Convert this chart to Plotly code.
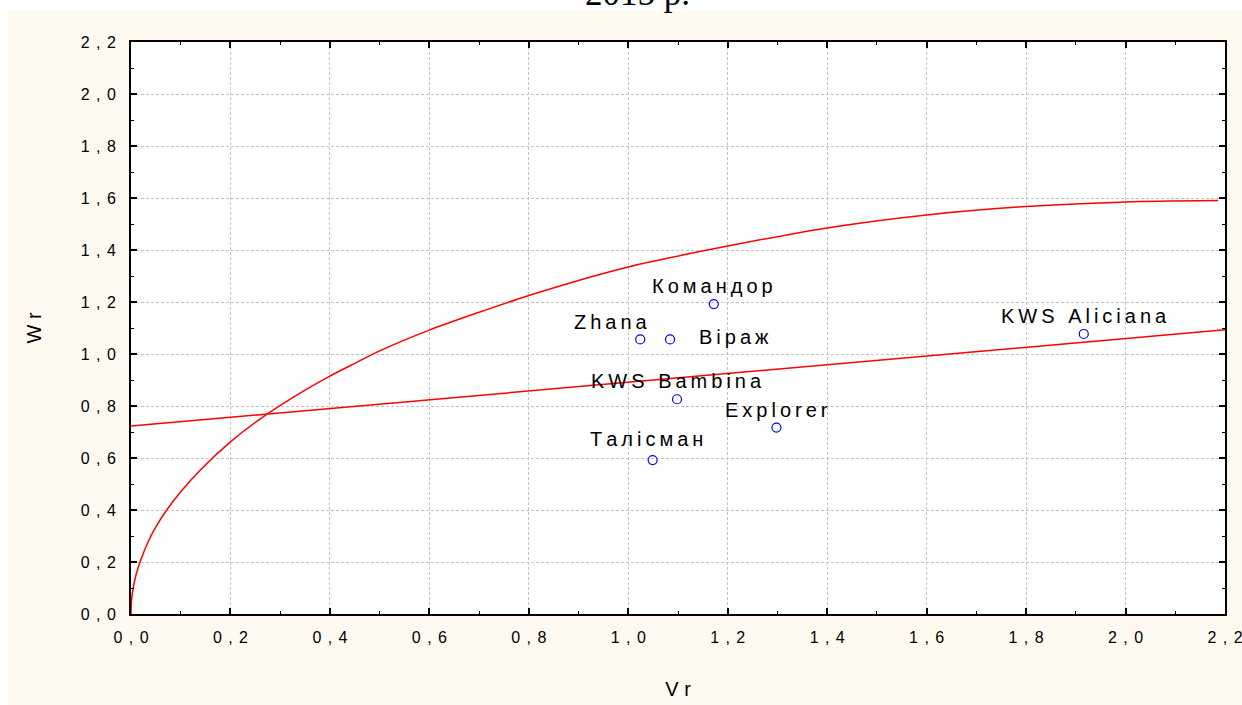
import plotly.graph_objects as go

# ---------------- data ----------------
variety_names = ["Командор", "Zhana", "Віраж", "KWS Bambina", "Explorer", "Талісман", "KWS Aliciana"]
variety_vr = [1.172, 1.024, 1.084, 1.098, 1.298, 1.049, 1.916]
variety_wr = [1.192, 1.056, 1.056, 0.826, 0.717, 0.592, 1.077]

# regression line Wr on Vr
regression_vr = [0.0, 2.2]
regression_wr = [0.723, 1.093]

# limiting curve
curve_vr = [0.0, 0.001, 0.004, 0.01, 0.02, 0.035, 0.05, 0.07, 0.1, 0.14, 0.2, 0.27,
            0.35, 0.4, 0.45, 0.5, 0.6, 0.8, 1.0, 1.2, 1.4, 1.6, 1.8, 2.0, 2.186]
curve_wr = [0.0, 0.05, 0.095, 0.15, 0.21, 0.28, 0.335, 0.395, 0.47, 0.555, 0.662, 0.764,
            0.861, 0.915, 0.964, 1.012, 1.092, 1.225, 1.335, 1.415, 1.485, 1.535, 1.567, 1.585, 1.590]

x_tick_values = [0.0, 0.2, 0.4, 0.6, 0.8, 1.0, 1.2, 1.4, 1.6, 1.8, 2.0, 2.2]
x_tick_labels = ["0,0", "0,2", "0,4", "0,6", "0,8", "1,0", "1,2", "1,4", "1,6", "1,8", "2,0", "2,2"]
y_tick_values = [0.0, 0.2, 0.4, 0.6, 0.8, 1.0, 1.2, 1.4, 1.6, 1.8, 2.0, 2.2]
y_tick_labels = ["0,0", "0,2", "0,4", "0,6", "0,8", "1,0", "1,2", "1,4", "1,6", "1,8", "2,0", "2,2"]

title_text = "2015 р."
x_title = "Vr"
y_title = "Wr"

# label offsets in pixels (xshift, yshift) per variety
label_offsets = {
    "Командор": (-1, 18),
    "Zhana": (-29, 17),
    "Віраж": (64, 2),
    "KWS Bambina": (-1, 18),
    "Explorer": (0, 18),
    "Талісман": (-6, 21),
    "KWS Aliciana": (0, 18),
}

# ---------------- helpers ----------------
THIN = "\u2009"
HAIR = "\u200a"


def spaced(s, sep=THIN):
    return sep.join(list(s))


CREAM = "#FFFAEF"
FONT = "Liberation Sans, Arial, sans-serif"

fig = go.Figure()

fig.add_trace(go.Scatter(
    x=curve_vr, y=curve_wr, mode="lines",
    line=dict(color="#FF0000", width=1.5, shape="spline", smoothing=0.7),
    hoverinfo="skip", showlegend=False,
))
fig.add_trace(go.Scatter(
    x=regression_vr, y=regression_wr, mode="lines",
    line=dict(color="#FF0000", width=1.5),
    hoverinfo="skip", showlegend=False,
))
fig.add_trace(go.Scatter(
    x=variety_vr, y=variety_wr, mode="markers",
    marker=dict(symbol="circle-open", size=9, color="#0000FF", line=dict(width=1.2, color="#0000FF")),
    text=variety_names, showlegend=False,
))

for name, vr, wr in zip(variety_names, variety_vr, variety_wr):
    dx, dy = label_offsets[name]
    fig.add_annotation(
        x=vr, y=wr, xref="x", yref="y", text=spaced(name), showarrow=False,
        xshift=dx, yshift=dy, xanchor="center", yanchor="middle",
        font=dict(family=FONT, size=20, color="#000000"),
    )

# title (cut off at the top like in the reference)
fig.add_annotation(
    x=0.4626, y=1.0, xref="paper", yref="paper", text=title_text, showarrow=False,
    xanchor="center", yanchor="bottom", yshift=27,
    font=dict(family="Liberation Serif, Times New Roman, serif", size=35, color="#000000"),
)

# white strips around the cream panel
fig.add_shape(type="rect", xref="paper", yref="paper",
              x0=-0.2, x1=1.1, y0=1.0542, y1=1.2, fillcolor="#FFFFFF", line_width=0, layer="below")
fig.add_shape(type="rect", xref="paper", yref="paper",
              x0=-0.2, x1=-0.1124, y0=-0.3, y1=1.2, fillcolor="#FFFFFF", line_width=0, layer="below")

tick_font = dict(family=FONT, size=16, color="#000000")
axis_common = dict(
    automargin=False, ticklabeloverflow="allow",
    showline=True, linecolor="#000000", linewidth=2, mirror="ticks",
    ticks="inside", ticklen=6, tickwidth=1.5, tickcolor="#000000",
    showgrid=True, gridcolor="#C4C4C4", gridwidth=1, griddash="3px,2px",
    zeroline=False, tickfont=tick_font,
    minor=dict(dtick=0.1, ticks="inside", ticklen=3, tickcolor="#000000", tickwidth=1, showgrid=False),
)

fig.update_layout(
    width=1242, height=705,
    margin=dict(l=131, r=16.5, t=42, b=91, autoexpand=False),
    paper_bgcolor=CREAM, plot_bgcolor="#FFFFFF",
    showlegend=False,
    xaxis=dict(
        range=[0, 2.2], tickmode="array", tickvals=x_tick_values,
        ticktext=[spaced(t, THIN + THIN) for t in x_tick_labels],
        ticklabelstandoff=8,
        title=dict(text=spaced(x_title, THIN + HAIR), font=dict(family=FONT, size=20, color="#000000"), standoff=37),
        **axis_common,
    ),
    yaxis=dict(
        range=[0, 2.2], tickmode="array", tickvals=y_tick_values,
        ticktext=[spaced(t, THIN + THIN) for t in y_tick_labels],
        ticklabelstandoff=10,
        title=dict(text=spaced(y_title, THIN + HAIR), font=dict(family=FONT, size=20, color="#000000"), standoff=34),
        **axis_common,
    ),
)

fig.write_html(
    "out.html",
    config={"displayModeBar": False},
    post_script="document.body.style.margin='0';document.body.style.overflow='hidden';",
)
